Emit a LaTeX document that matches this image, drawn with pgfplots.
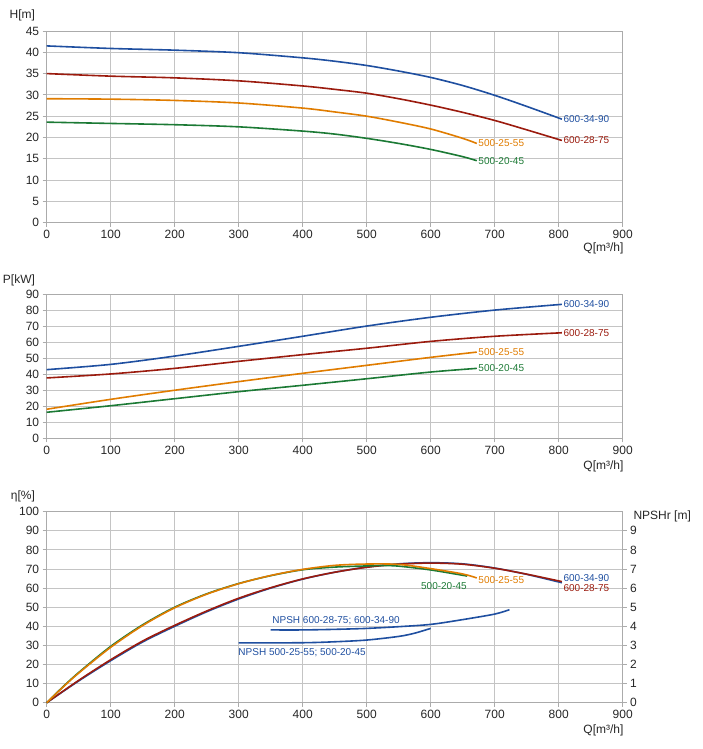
\documentclass[border=0pt]{standalone}
\usepackage{fontspec}
\setmainfont{Liberation Sans}
\usepackage{pgfplots}
\pgfplotsset{compat=1.18}
\definecolor{cblue}{HTML}{1F4FA0}
\definecolor{cred}{HTML}{9B1B0E}
\definecolor{corange}{HTML}{E07C00}
\definecolor{cgreen}{HTML}{1C7A35}
\definecolor{cgrid}{HTML}{C4C4C4}
\definecolor{cframe}{HTML}{ABABAB}
\pgfplotsset{
  base/.style={
    scale only axis, width=576pt, xmin=0, xmax=900, xtick={0,100,...,900},
    grid=major, grid style={cgrid, line width=0.8pt},
    axis line style={cframe, line width=0.8pt},
    tick align=outside, major tick length=4pt, tick style={cframe, line width=0.8pt},
    xtick pos=left, ytick pos=left,
    ticklabel style={font=\fontsize{12}{14}\selectfont, text=black!85},
    /pgf/number format/assume math mode=true,
    clip=false,
    every axis plot/.append style={line width=1.6pt, no marks, smooth},
  },
}
\tikzset{lab/.style={font=\fontsize{10}{12}\selectfont, inner sep=1.5pt}}
\begin{document}
\begin{tikzpicture}[x=1pt,y=1pt]
% ---------------- H chart
\begin{axis}[base, at={(46.7pt,526.3pt)}, anchor=south west, height=191.7pt,
  ymin=0, ymax=45, ytick={0,5,...,45}]
\addplot[cblue] coordinates {(0,41.5)(100,40.9)(200,40.5)(300,39.9)(400,38.7)(450,37.9)(500,36.9)(550,35.6)(600,34.1)(650,32.2)(700,29.9)(750,27.3)(805,24.3)};
\addplot[cred] coordinates {(0,35.0)(100,34.4)(200,34.0)(300,33.3)(400,32.1)(450,31.3)(500,30.4)(550,29.1)(600,27.6)(650,25.9)(700,24.0)(750,21.8)(805,19.3)};
\addplot[corange] coordinates {(0,29.1)(100,29.0)(200,28.7)(300,28.1)(400,26.9)(450,26.0)(500,25.0)(550,23.6)(600,22.0)(650,19.8)(672,18.6)};
\addplot[cgreen] coordinates {(0,23.6)(100,23.3)(200,23.0)(300,22.5)(400,21.5)(450,20.8)(500,19.8)(550,18.6)(600,17.2)(650,15.5)(672,14.55)};
\node[lab, anchor=west, text=cblue] at (axis cs:805,24.3) {600-34-90};
\node[lab, anchor=west, text=cred] at (axis cs:805,19.3) {600-28-75};
\node[lab, anchor=west, text=corange] at (axis cs:672,18.6) {500-25-55};
\node[lab, anchor=west, text=cgreen] at (axis cs:672,14.55) {500-20-45};
\end{axis}
% ---------------- P chart
\begin{axis}[base, at={(46.7pt,310.7pt)}, anchor=south west, height=143.7pt,
  ymin=0, ymax=90, ytick={0,10,...,90}]
\addplot[cblue] coordinates {(0,43.0)(100,46.3)(200,51.5)(300,57.6)(400,63.9)(500,70.3)(600,75.8)(700,80.3)(805,83.9)};
\addplot[cred] coordinates {(0,37.8)(100,40.3)(200,43.8)(300,48.2)(400,52.4)(500,56.4)(600,60.7)(700,63.9)(805,66.1)};
\addplot[corange] coordinates {(0,18.2)(100,24.4)(200,30.1)(300,35.5)(400,40.7)(500,45.7)(600,50.7)(672,54.0)};
\addplot[cgreen] coordinates {(0,16.3)(100,20.4)(200,24.8)(300,29.2)(400,33.2)(500,37.3)(600,41.5)(672,43.8)};
\node[lab, anchor=west, text=cblue] at (axis cs:805,83.9) {600-34-90};
\node[lab, anchor=west, text=cred] at (axis cs:805,66.1) {600-28-75};
\node[lab, anchor=west, text=corange] at (axis cs:672,54.0) {500-25-55};
\node[lab, anchor=west, text=cgreen] at (axis cs:672,43.8) {500-20-45};
\end{axis}
% ---------------- eta chart
\begin{axis}[base, at={(46.7pt,46.3pt)}, anchor=south west, height=191pt,
  ymin=0, ymax=100, ytick={0,10,...,100}]
\addplot[cblue] coordinates {(0,0)(50,11.4)(100,22.0)(150,31.8)(200,40.0)(250,47.6)(300,54.3)(350,60.0)(400,64.7)(450,68.3)(500,71.0)(550,72.7)(600,73.3)(650,72.7)(700,70.5)(750,67.2)(805,62.8)};
\addplot[cred] coordinates {(0,0)(50,11.7)(100,22.5)(150,32.3)(200,40.5)(250,48.0)(300,54.7)(350,60.2)(400,64.8)(450,68.3)(500,70.9)(550,72.5)(600,73.1)(650,72.5)(700,70.4)(750,67.3)(805,63.4)};
\addplot[cgreen] coordinates {(0,0)(25,8.2)(50,15.8)(100,29.5)(150,40.8)(200,50.0)(250,57.0)(300,62.4)(350,66.5)(400,69.6)(450,71.0)(500,71.6)(525,71.8)(550,71.5)(600,69.5)(657,66.3)};
\addplot[corange] coordinates {(0,0)(25,8.0)(50,15.5)(100,29.0)(150,40.4)(200,49.7)(250,56.8)(300,62.3)(350,66.6)(400,69.8)(450,71.9)(500,72.6)(550,72.4)(600,70.2)(650,67.4)(672,65.3)};
\node[lab, anchor=west, text=cblue] at (axis cs:805,65.5) {600-34-90};
\node[lab, anchor=west, text=cred] at (axis cs:805,60.2) {600-28-75};
\node[lab, anchor=west, text=corange] at (axis cs:672,64.0) {500-25-55};
\node[lab, anchor=east, text=cgreen] at (axis cs:659,61.3) {500-20-45};
\end{axis}
\begin{axis}[base, at={(46.7pt,46.3pt)}, anchor=south west, height=191pt,
  grid=none, hide x axis, axis y line*=right, ytick pos=right,
  ymin=0, ymax=10, ytick={0,1,...,9},
  yticklabel style={anchor=west}]
\addplot[cblue] coordinates {(300,3.13)(400,3.14)(450,3.19)(500,3.28)(550,3.47)(575,3.64)(600,3.89)};
\addplot[cblue] coordinates {(350,3.81)(400,3.81)(450,3.84)(500,3.89)(550,3.98)(600,4.10)(650,4.35)(700,4.64)(723,4.87)};
\node[lab, anchor=south west, text=cblue] at (axis cs:350,4.0) {NPSH 600-28-75; 600-34-90};
\node[lab, anchor=north west, text=cblue] at (axis cs:297,2.95) {NPSH 500-25-55; 500-20-45};
\end{axis}
% ---------------- axis titles
\node[anchor=east, font=\fontsize{12}{14}\selectfont, text=black!85] at (38.5,734) {H[m]};
\node[anchor=east, font=\fontsize{12}{14}\selectfont, text=black!85] at (627,501) {Q[m³/h]};
\node[anchor=east, font=\fontsize{12}{14}\selectfont, text=black!85] at (38.5,468.3) {P[kW]};
\node[anchor=east, font=\fontsize{12}{14}\selectfont, text=black!85] at (627,282.3) {Q[m³/h]};
\node[anchor=east, font=\fontsize{12}{14}\selectfont, text=black!85] at (38.5,253) {η[\%]};
\node[anchor=west, font=\fontsize{12}{14}\selectfont, text=black!85] at (630,232.3) {NPSHr [m]};
\node[anchor=east, font=\fontsize{12}{14}\selectfont, text=black!85] at (627,18.3) {Q[m³/h]};
\pgfresetboundingbox
\path[use as bounding box] (0,0) rectangle (703,749);
\end{tikzpicture}
\end{document}
